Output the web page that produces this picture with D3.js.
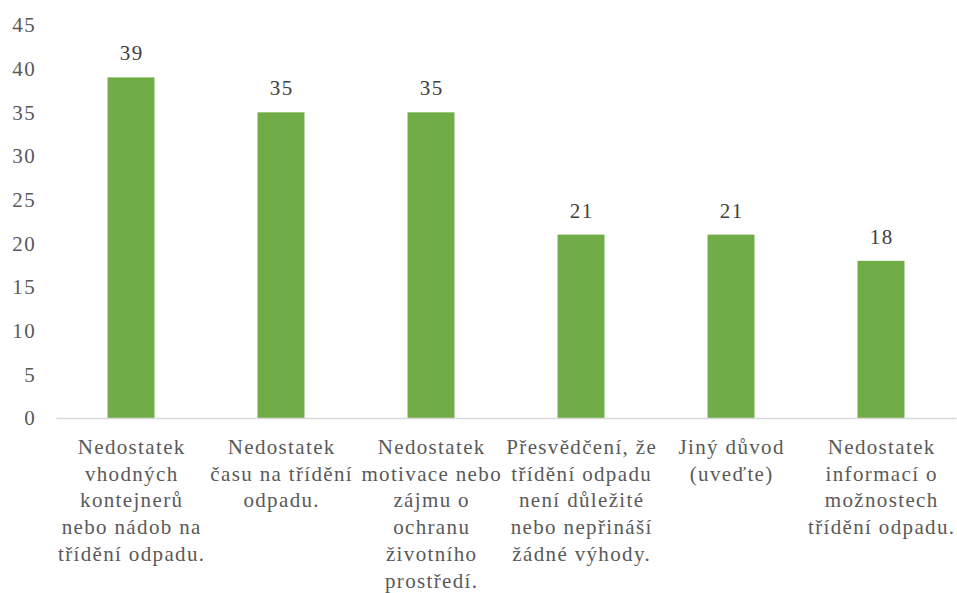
<!DOCTYPE html>
<html><head><meta charset="utf-8">
<script src="https://cdn.jsdelivr.net/npm/d3@7"></script>
<style>body{margin:0;background:#fff}svg{display:block}</style>
</head><body>
<svg id="c" width="957" height="593"></svg>
<script>
const categories = [
  "Nedostatek\nvhodných\nkontejnerů\nnebo nádob na\ntřídění odpadu.",
  "Nedostatek\nčasu na třídění\nodpadu.",
  "Nedostatek\nmotivace nebo\nzájmu o\nochranu\nživotního\nprostředí.",
  "Přesvědčení, že\ntřídění odpadu\nnení důležité\nnebo nepřináší\nžádné výhody.",
  "Jiný důvod\n(uveďte)",
  "Nedostatek\ninformací o\nmožnostech\ntřídění odpadu."
];
const values = [39, 35, 35, 21, 21, 18];
const yTicks = [0, 5, 10, 15, 20, 25, 30, 35, 40, 45];

(function () {
const svg = d3.select("#c");
const mLeft = 56, mRight = 956, mTop = 25, mBottom = 418;
const font = '"Liberation Serif", "Times New Roman", Tinos, serif';
const ls = "1.35px";

const x = d3.scaleBand().domain(d3.range(categories.length)).range([mLeft, mRight]).paddingInner(0.687).paddingOuter(0.3435);
const y = d3.scaleLinear().domain([0, 45]).range([mBottom, mTop]);

const yAxis = d3.axisLeft(y).tickValues(yTicks).tickSize(0).tickPadding(0);
const ya = svg.append("g").attr("transform", "translate(36,0)").call(yAxis);
ya.select(".domain").remove();
ya.selectAll("text").style("font-family", font).style("font-size", "21px")
  .style("letter-spacing", ls).attr("fill", "#595959");

svg.selectAll("rect.bar").data(values).join("rect")
  .attr("x", (d, i) => x(i)).attr("width", x.bandwidth())
  .attr("y", d => y(d)).attr("height", d => y(0) - y(d))
  .attr("fill", "#70ad47");

const xAxis = d3.axisBottom(x).tickSize(0).tickFormat("");
const xa = svg.append("g").attr("transform", `translate(0,${mBottom})`).call(xAxis);
xa.select(".domain").attr("stroke", "#d9d9d9").attr("stroke-width", 1.5);

svg.selectAll("text.val").data(values).join("text")
  .attr("x", (d, i) => x(i) + x.bandwidth() / 2 + 0.7).attr("y", d => y(d) - 17)
  .attr("text-anchor", "middle").style("font-family", font).style("font-size", "21px")
  .style("letter-spacing", ls).attr("fill", "#404040").text(d => d);

categories.forEach((c, i) => {
  const t = svg.append("text").attr("text-anchor", "middle")
    .style("font-family", font).style("font-size", "21px").style("letter-spacing", ls)
    .attr("fill", "#595959");
  c.split("\n").forEach((line, j) => {
    t.append("tspan").attr("x", x(i) + x.bandwidth() / 2 + 0.7).attr("y", mBottom + 36 + j * 26.7).text(line);
  });
});
})();
</script>
</body></html>
